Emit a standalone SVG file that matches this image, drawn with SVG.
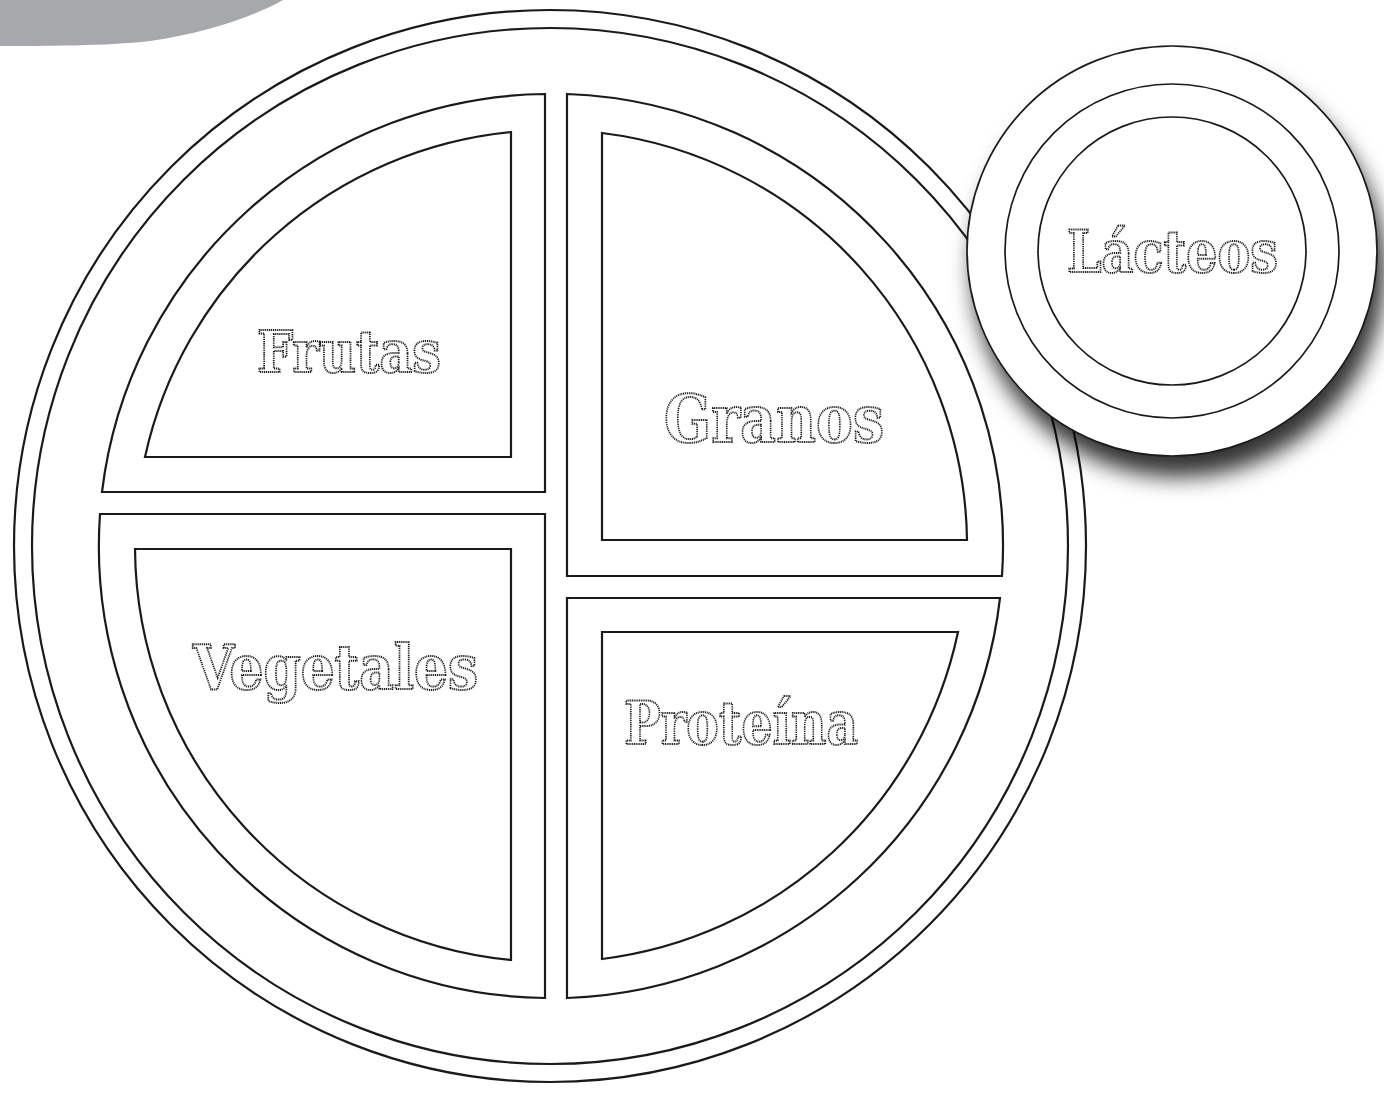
<svg xmlns="http://www.w3.org/2000/svg" width="1384" height="1095" viewBox="0 0 1384 1095">
<defs>
<style>
.ln{fill:#fff;stroke:#1a1a1a;stroke-width:2.2}
.cup{fill:#fff;stroke:#1a1a1a;stroke-width:1.7}
.lbl{font-family:"DejaVu Serif","Liberation Serif",serif;font-weight:bold;fill:#fff;stroke:#1a1a1a;stroke-width:2;stroke-dasharray:1.3 0.9}
</style>
<filter id="sh" x="-30%" y="-30%" width="160%" height="170%">
<feDropShadow dx="7" dy="20" stdDeviation="11" flood-color="#000" flood-opacity="0.8"/>
</filter>
</defs>
<rect width="1384" height="1095" fill="#fff"/>
<path id="banner" d="M0,0 H283 C255,16 205,33 150,41 C105,46 45,46 0,46 Z" fill="#a7a8ab"/>
<g id="plate">
<circle class="ln" cx="550" cy="546" r="536"/>
<circle class="ln" cx="550" cy="546" r="518"/>
</g>
<g id="frutas">
<path class="ln" d="M545,94 V492 H102 A452,452 0 0 1 545,94 Z"/>
<path class="ln" d="M511,132 V457 H145 A416,416 0 0 1 511,132 Z"/>
<text class="lbl" x="257" y="372" font-size="58" textLength="184" lengthAdjust="spacingAndGlyphs">Frutas</text>
</g>
<g id="granos">
<path class="ln" d="M567,94 V576 H1002 A452,452 0 0 0 567,94 Z"/>
<path class="ln" d="M602,133 V540 H967 A416,416 0 0 0 602,133 Z"/>
<text class="lbl" x="664" y="442" font-size="66" textLength="220" lengthAdjust="spacingAndGlyphs">Granos</text>
</g>
<g id="vegetales">
<path class="ln" d="M100,514 H545 V998 A452,452 0 0 1 100,514 Z"/>
<path class="ln" d="M135,549 H511 V960 A416,416 0 0 1 135,549 Z"/>
<text class="lbl" x="193" y="689" font-size="62" textLength="285" lengthAdjust="spacingAndGlyphs">Vegetales</text>
</g>
<g id="proteina">
<path class="ln" d="M567,598 H1000 A452,452 0 0 1 567,998 Z"/>
<path class="ln" d="M602,632 H958 A416,416 0 0 1 602,959 Z"/>
<text class="lbl" x="624" y="744" font-size="60" textLength="234" lengthAdjust="spacingAndGlyphs">Proteína</text>
</g>
<g id="lacteos">
<circle class="cup" cx="1172" cy="251" r="205" filter="url(#sh)"/>
<circle class="cup" cx="1172" cy="251" r="167"/>
<circle class="cup" cx="1172" cy="251" r="134"/>
<text class="lbl" x="1067" y="272" font-size="58" textLength="211" lengthAdjust="spacingAndGlyphs">Lácteos</text>
</g>
<g id="connectors"/>
</svg>
